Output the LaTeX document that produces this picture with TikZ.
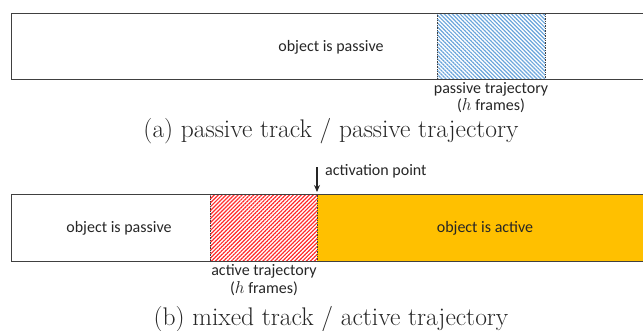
\documentclass[tikz,border=0pt]{standalone}
\usepackage{fontspec}
\setmainfont{Latin Modern Roman}
\newfontfamily\calib{Carlito}
\usetikzlibrary{patterns.meta,arrows.meta}
\definecolor{barline}{HTML}{404040}
\definecolor{hblue}{HTML}{6BA5DB}
\definecolor{hred}{HTML}{FF2A2A}
\definecolor{orng}{HTML}{FFC000}
\tikzset{
  bar/.style={draw=barline, line width=1pt},
  lbl/.style={font=\calib\fontsize{16}{18}\selectfont, inner sep=0pt, text=black!85},
  captext/.style={font=\fontsize{25.5}{28}\selectfont, inner sep=0pt, text=black!85},
}
\begin{document}
\begin{tikzpicture}[x=1pt,y=-1pt]
\useasboundingbox (0,0) rectangle (643,330);
% (a)
\fill[pattern={Lines[angle=-45,distance=2.8pt,line width=1.2pt]}, pattern color=hblue] (437,13) rectangle (545,79);
\draw[barline, line width=0.7pt, densely dotted] (437,13) rectangle (545,79);
\draw[bar] (650,13) -- (11,13) -- (11,79) -- (650,79);
\node[lbl] (pa) at (331,47) {object is passive};
\node[lbl] (pt1) at (491,89) {passive trajectory};
\node[lbl] (pt2) at (491,106) {($h$ frames)};
\node[captext] (ca) at (331,131) {(a) passive track / passive trajectory};
% (b)
\fill[orng] (317,194) rectangle (650,261);
\fill[pattern={Lines[angle=45,distance=2.8pt,line width=1.2pt]}, pattern color=hred] (210,194) rectangle (317,261);
\draw[barline, line width=0.7pt, densely dotted] (210,194) rectangle (317,261);
\draw[bar] (650,194) -- (11,194) -- (11,261) -- (650,261);
\coordinate (ap) at (317,192);
\node[lbl, anchor=west] (apl) at (325,171) {activation point};
\draw[-{Stealth[length=7pt,width=6pt]}, line width=1.3pt, black!85] (317,167) -- (ap);
\node[lbl] (pb) at (119,228) {object is passive};
\node[lbl] (act) at (485,228) {object is active};
\node[lbl] (at1) at (264,271) {active trajectory};
\node[lbl] (at2) at (264,289) {($h$ frames)};
\node[captext] (cb) at (331,319) {(b) mixed track / active trajectory};
\end{tikzpicture}
\end{document}
